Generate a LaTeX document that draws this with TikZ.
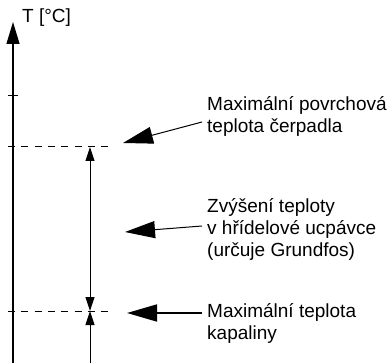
\documentclass[tikz,border=0pt]{standalone}
\usepackage{fontspec}
\setmainfont{Liberation Sans}
\usetikzlibrary{arrows.meta}
\begin{document}
\begin{tikzpicture}[x=1pt,y=-1pt,
  lbl/.style={anchor=west,align=left,inner sep=0pt,font=\fontsize{19}{22}\selectfont},
  bigtip/.style={-{Triangle[length=30pt,width=17pt]}},
  smalltip/.style={-{Triangle[length=14pt,width=9pt]}},
  dashln/.style={line width=1pt,dash pattern=on 7pt off 6.3pt},
  thin/.style={line width=1pt}]
\useasboundingbox (0,0) rectangle (388,363);
% axis
\coordinate (axb) at (13,363);
\coordinate (axt) at (13,22);
\draw[line width=1.3pt,-{Triangle[length=22pt,width=13pt]}] (axb) -- (axt);
\node[lbl] (T) at (22,18) {T [°C]};
\coordinate (tk1) at (8,96); \coordinate (tk2) at (18,96);
\draw[thin] (tk1) -- (tk2);
% dashed levels
\coordinate (d1a) at (8,147); \coordinate (d1b) at (110,147);
\coordinate (d2a) at (8,311); \coordinate (d2b) at (110,311);
\draw[dashln] (d1a) -- (d1b);
\draw[dashln] (d2a) -- (d2b);
% vertical dimension
\coordinate (v1) at (90,147);
\coordinate (v2) at (90,311);
\coordinate (v3) at (90,363);
\coordinate (vm) at (90,229);
\draw[thin,smalltip] (vm) -- (v1);
\draw[thin,smalltip] (vm) -- (v2);
\draw[thin,smalltip] (v3) -- (v2);
% labels
\node[lbl] (L1) at (207,116) {Maximální povrchová\\teplota čerpadla};
\node[lbl] (L2) at (207,229) {Zvýšení teploty\\v hřídelové ucpávce\\(určuje Grundfos)};
\node[lbl] (L3) at (207,323) {Maximální teplota\\kapaliny};
\coordinate (a1s) at (202,122); \coordinate (a1e) at (123,143);
\coordinate (a2s) at (202,226); \coordinate (a2e) at (125,232);
\coordinate (a3s) at (202,313); \coordinate (a3e) at (127,313);
\draw[thin,bigtip] (a1s) -- (a1e);
\draw[thin,bigtip] (a2s) -- (a2e);
\draw[line width=1.7pt,bigtip] (a3s) -- (a3e);
\end{tikzpicture}
\end{document}
